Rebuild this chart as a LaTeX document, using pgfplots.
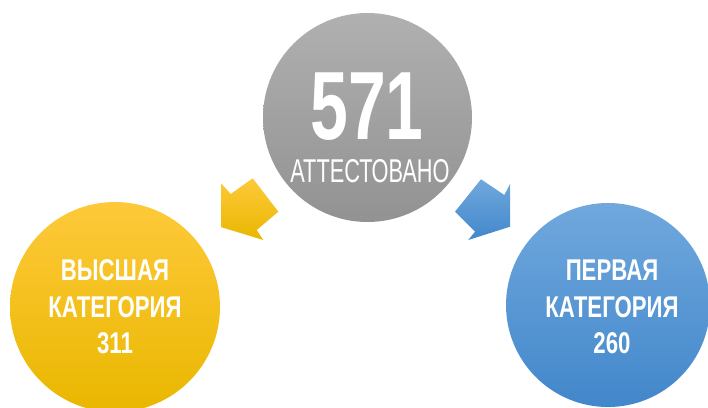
\documentclass[border=0pt]{standalone}
\usepackage{fontspec}
\setmainfont{Liberation Sans}
\newfontfamily\condb[FakeStretch=0.74]{Liberation Sans}
\newfontfamily\condn[FakeStretch=0.70]{Liberation Sans}
\newfontfamily\condl[FakeStretch=0.66]{Liberation Sans}
\usepackage{pgfplots}
\pgfplotsset{compat=1.18}
\definecolor{gtop}{HTML}{B0B0B0}
\definecolor{gbot}{HTML}{929292}
\definecolor{ytop}{HTML}{FEC93A}
\definecolor{ybot}{HTML}{E9B700}
\definecolor{btop}{HTML}{70A8DD}
\definecolor{bbot}{HTML}{4287CB}
\pgfdeclareverticalshading{grayshade}{100bp}{color(0bp)=(gbot); color(25bp)=(gbot); color(75bp)=(gtop); color(100bp)=(gtop)}
\pgfdeclareverticalshading{yelshade}{100bp}{color(0bp)=(ybot); color(25bp)=(ybot); color(75bp)=(ytop); color(100bp)=(ytop)}
\pgfdeclareverticalshading{blushade}{100bp}{color(0bp)=(bbot); color(25bp)=(bbot); color(75bp)=(btop); color(100bp)=(btop)}
\pgfdeclareplotmark{gcirc}{\pgfpathcircle{\pgfpointorigin}{\pgfplotmarksize}\pgfshadepath{grayshade}{0}\pgfusepath{discard}}
\pgfdeclareplotmark{ycirc}{\pgfpathcircle{\pgfpointorigin}{\pgfplotmarksize}\pgfshadepath{yelshade}{0}\pgfusepath{discard}}
\pgfdeclareplotmark{bcirc}{\pgfpathcircle{\pgfpointorigin}{\pgfplotmarksize}\pgfshadepath{blushade}{0}\pgfusepath{discard}}
\begin{document}
\begin{tikzpicture}
\begin{axis}[
  set layers,
  scale only axis, width=708pt, height=407pt,
  xmin=0, xmax=708, ymin=0, ymax=407, y dir=reverse,
  hide axis, clip=true,
]
% circles
\addplot[only marks, mark=gcirc, mark size=104.5pt] coordinates {(367.5,117.5)};
\addplot[only marks, mark=ycirc, mark size=105pt] coordinates {(115,307)};
\addplot[only marks, mark=bcirc, mark size=102pt] coordinates {(608,305)};
% arrows
\addplot[draw=none, top color=ytop, bottom color=ybot] coordinates {
 (221.7,184) (230.7,194) (252.7,178.3) (278.3,211.7) (256.7,230) (263.3,240) (221.7,227.3)} -- cycle;
\addplot[draw=none, top color=btop, bottom color=bbot] coordinates {
 (510,184) (504.3,195) (481,179.3) (455,211.7) (475,231.7) (468.3,240) (510,226.7)} -- cycle;
% texts
\begin{pgfonlayer}{axis foreground}
\node[anchor=base, text=white, inner sep=0pt, font=\condn\bfseries\fontsize{97}{97}\selectfont] at (axis cs:367,140) {571};
\node[anchor=base, text=white, inner sep=0pt, font=\condl\fontsize{33}{33}\selectfont] at (axis cs:370,183) {АТТЕСТОВАНО};
\node[anchor=base, text=white, inner sep=0pt, font=\condb\bfseries\fontsize{30}{30}\selectfont] at (axis cs:115,280) {ВЫСШАЯ};
\node[anchor=base, text=white, inner sep=0pt, font=\condb\bfseries\fontsize{30}{30}\selectfont] at (axis cs:115,317) {КАТЕГОРИЯ};
\node[anchor=base, text=white, inner sep=0pt, font=\condb\bfseries\fontsize{30}{30}\selectfont] at (axis cs:115,353) {311};
\node[anchor=base, text=white, inner sep=0pt, font=\condb\bfseries\fontsize{30}{30}\selectfont] at (axis cs:612,280) {ПЕРВАЯ};
\node[anchor=base, text=white, inner sep=0pt, font=\condb\bfseries\fontsize{30}{30}\selectfont] at (axis cs:612,317) {КАТЕГОРИЯ};
\node[anchor=base, text=white, inner sep=0pt, font=\condb\bfseries\fontsize{30}{30}\selectfont] at (axis cs:612,353) {260};
\end{pgfonlayer}
\end{axis}
\pgfresetboundingbox
\useasboundingbox (current axis.south west) rectangle (current axis.north east);
\end{tikzpicture}
\end{document}
